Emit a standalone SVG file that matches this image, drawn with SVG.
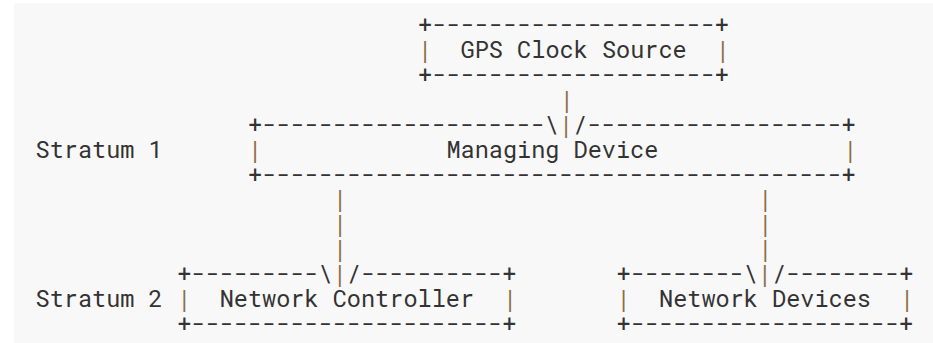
<svg xmlns="http://www.w3.org/2000/svg" width="933" height="343" viewBox="0 0 933 343">
  <style>
    text { font-family: "Roboto Mono", "DejaVu Sans Mono", "Liberation Mono", monospace; font-size: 23.55px; fill: #333333; }
    .bar { fill: #8c6d46; }
  </style>
  <!-- page background -->
  <rect x="0" y="0" width="933" height="343" fill="#ffffff"/>
  <rect x="14" y="3" width="919" height="340" fill="#f8f8f8"/>

  <!-- column grid: x = 35.5 + col * 14.17, row baselines: y = 33 + row * 24.92 -->
  <g id="labels">
    <text x="35.5" y="157.6">Stratum 1</text>
    <text x="35.5" y="307.1">Stratum 2</text>
  </g>

  <g id="gps-clock-source">
    <text x="418.1" y="33">+--------------------+</text>
    <text y="57.9"><tspan class="bar" x="418.1">|</tspan><tspan x="460.6">GPS Clock Source</tspan><tspan class="bar" x="715.7">|</tspan></text>
    <text x="418.1" y="82.8">+--------------------+</text>
  </g>

  <g id="managing-device">
    <text x="248.05" y="132.7">+--------------------\<tspan class="bar">|</tspan>/------------------+</text>
    <text y="157.6"><tspan class="bar" x="248.05">|</tspan><tspan x="446.4">Managing Device</tspan><tspan class="bar" x="843.2">|</tspan></text>
    <text x="248.05" y="182.5">+-----------------------------------------+</text>
  </g>

  <g id="network-controller">
    <text x="177.2" y="282.2">+---------\<tspan class="bar">|</tspan>/----------+</text>
    <text y="307.1"><tspan class="bar" x="177.2">|</tspan><tspan x="219.7">Network Controller</tspan><tspan class="bar" x="503.1">|</tspan></text>
    <text x="177.2" y="332">+----------------------+</text>
  </g>

  <g id="network-devices">
    <text x="616.5" y="282.2">+--------\<tspan class="bar">|</tspan>/--------+</text>
    <text y="307.1"><tspan class="bar" x="616.5">|</tspan><tspan x="659.0">Network Devices</tspan><tspan class="bar" x="899.9">|</tspan></text>
    <text x="616.5" y="332">+-------------------+</text>
  </g>

  <g id="connectors" class="bar">
    <text class="bar" x="559.8" y="107.8">|</text>
    <text class="bar" x="333.1" y="207.4">|</text>
    <text class="bar" x="333.1" y="232.4">|</text>
    <text class="bar" x="333.1" y="257.3">|</text>
    <text class="bar" x="758.2" y="207.4">|</text>
    <text class="bar" x="758.2" y="232.4">|</text>
    <text class="bar" x="758.2" y="257.3">|</text>
  </g>
</svg>
